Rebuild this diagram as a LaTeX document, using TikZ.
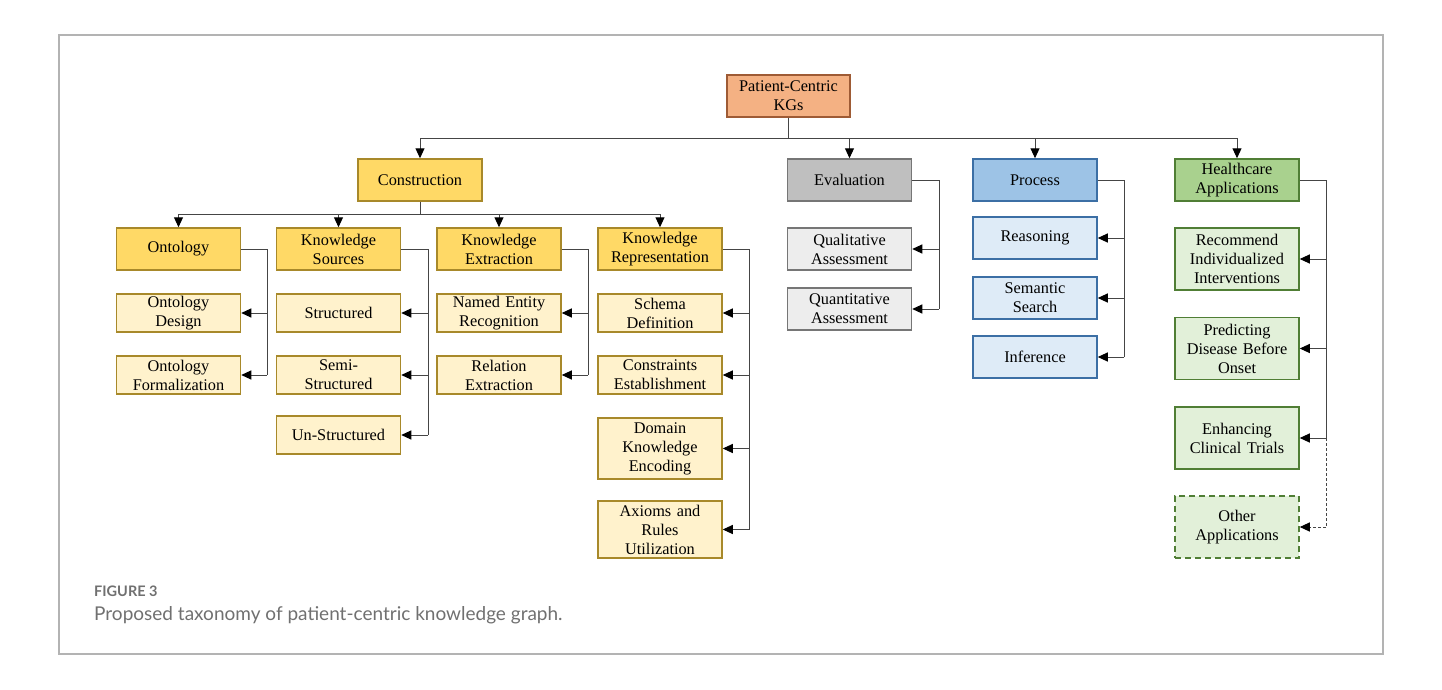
\documentclass[tikz,border=0pt]{standalone}
\usepackage{fontspec}
\setmainfont{Liberation Serif}
\newfontfamily\capfont{Lato}
\usepackage{xcolor}
\usepackage{tikz}
\usetikzlibrary{
  arrows.meta,
  positioning
}
\definecolor{KGorange}{HTML}{F4B183}
\definecolor{KGorangedk}{HTML}{9E5B35}
\definecolor{KGyellow}{HTML}{FFD966}
\definecolor{KGyellowlt}{HTML}{FFF2CC}
\definecolor{KGyellowdk}{HTML}{A8892A}
\definecolor{KGgray}{HTML}{BFBFBF}
\definecolor{KGgraylt}{HTML}{EDEDED}
\definecolor{KGgraydk}{HTML}{767676}
\definecolor{KGblue}{HTML}{9DC3E6}
\definecolor{KGbluelt}{HTML}{DEEBF7}
\definecolor{KGbluedk}{HTML}{3C6FA5}
\definecolor{KGgreen}{HTML}{A9D18E}
\definecolor{KGgreenlt}{HTML}{E2F0D9}
\definecolor{KGgreendk}{HTML}{507E35}
\definecolor{KGline}{HTML}{454545}
\definecolor{KGframe}{HTML}{B3B3B3}
\definecolor{KGcap}{HTML}{707070}

\begin{document}
\begin{tikzpicture}[
      x=1pt, y=-1pt,
      >={Triangle[length=10pt,width=9pt,color=black]},
      font=\fontsize{16.3}{19}\selectfont,
      kgbox/.style={
        rectangle, draw=#1dk, fill=#1,
        text width=118pt, align=center,
        minimum height=42pt, inner xsep=3pt, inner ysep=0pt,
        line width=1.5pt
      },
      kgsub/.style={
        rectangle, draw=#1dk, fill=#1lt,
        text width=118pt, align=center,
        minimum height=38pt, inner xsep=3pt, inner ysep=0pt,
        line width=1.5pt
      },
      kgconn/.style={draw=KGline, line width=1pt},
      kgarr/.style={kgconn, ->}
    ]
    \useasboundingbox (0,0) rectangle (1442,690);

    % Frame
    \draw[KGframe, line width=1.5pt] (59,35) rectangle (1383,654);

    % Root
    \node[kgbox=KGorange, text width=117pt] (root) at (788.5,96)
      {Patient-Centric\\KGs};

    % Level 1: four categories
    \node[kgbox=KGyellow] (con) at ( 420.0,180) {Construction};
    \node[kgbox=KGgray]   (eva) at ( 849.5,180) {Evaluation};
    \node[kgbox=KGblue]   (pro) at (1035.0,180) {Process};
    \node[kgbox=KGgreen]  (hca) at (1237.0,180) {Healthcare\\Applications};

    % Level 2: construction branches
    \node[kgbox=KGyellow] (ont) at (178.5,249) {Ontology};
    \node[kgbox=KGyellow] (ksr) at (338.5,249) {Knowledge\\Sources};
    \node[kgbox=KGyellow] (kex) at (499.0,249) {Knowledge\\Extraction};
    \node[kgbox=KGyellow] (krp) at (660.0,249) {Knowledge\\Representation};

    % Ontology items
    \node[kgsub=KGyellow] (ontdes) at (178.5,313) {Ontology\\Design};
    \node[kgsub=KGyellow] (ontfor) at (178.5,375) {Ontology\\Formalization};

    % Knowledge sources items
    \node[kgsub=KGyellow] (ksrstr) at (338.5,313) {Structured};
    \node[kgsub=KGyellow] (ksrsem) at (338.5,375) {Semi-\\Structured};
    \node[kgsub=KGyellow] (ksruns) at (338.5,435) {Un-Structured};

    % Knowledge extraction items
    \node[kgsub=KGyellow] (kexner) at (499.0,313) {Named Entity\\Recognition};
    \node[kgsub=KGyellow] (kexrel) at (499.0,375) {Relation\\Extraction};

    % Knowledge representation items
    \node[kgsub=KGyellow] (krpsch) at (660.0,313) {Schema\\Definition};
    \node[kgsub=KGyellow] (krpcst) at (660.0,375) {Constraints\\Establishment};
    \node[kgsub=KGyellow, minimum height=61pt] (krpdom) at (660.0,448.5)
      {Domain\\Knowledge\\Encoding};
    \node[kgsub=KGyellow, minimum height=57pt] (krpaxi) at (660.0,529.5)
      {Axioms and\\Rules\\Utilization};

    % Evaluation items
    \node[kgsub=KGgray, minimum height=42pt] (evaqal) at (849.5,249) {Qualitative\\Assessment};
    \node[kgsub=KGgray, minimum height=42pt] (evaqnt) at (849.5,309) {Quantitative\\Assessment};

    % Process items
    \node[kgsub=KGblue, minimum height=42pt] (prorea) at (1035.0,238) {Reasoning};
    \node[kgsub=KGblue, minimum height=42pt] (prosem) at (1035.0,298) {Semantic\\Search};
    \node[kgsub=KGblue, minimum height=42pt] (proinf) at (1035.0,357) {Inference};

    % Healthcare items
    \node[kgsub=KGgreen, minimum height=62pt] (hcarec) at (1237.0,259)
      {Recommend\\Individualized\\Interventions};
    \node[kgsub=KGgreen, minimum height=62pt] (hcapre) at (1237.0,348.5)
      {Predicting\\Disease Before\\Onset};
    \node[kgsub=KGgreen, minimum height=62pt] (hcaenh) at (1237.0,438)
      {Enhancing\\Clinical Trials};
    \node[kgsub=KGgreen, minimum height=62pt, dash pattern=on 6pt off 4pt] (hcaoth) at (1237.0,527)
      {Other\\Applications};

    % Bus coordinates
    \coordinate (topbus) at (788.5,138);
    \coordinate (conbus) at (420.0,214);
    \coordinate (ontbus) at (267,0);
    \coordinate (ksrbus) at (428,0);
    \coordinate (kexbus) at (588,0);
    \coordinate (krpbus) at (749,0);
    \coordinate (evabus) at (939,0);
    \coordinate (probus) at (1124,0);
    \coordinate (hcabus) at (1326,0);

    % Root to categories
    \draw[kgconn] (root.south) -- (topbus);
    \draw[kgconn] (con.north |- topbus) -- (hca.north |- topbus);
    \foreach \n in {con,eva,pro,hca}
      \draw[kgarr] (\n.north |- topbus) -- (\n.north);

    % Construction to branches
    \draw[kgconn] (con.south) -- (conbus);
    \draw[kgconn] (ont.north |- conbus) -- (krp.north |- conbus);
    \foreach \n in {ont,ksr,kex,krp}
      \draw[kgarr] (\n.north |- conbus) -- (\n.north);

    % Side buses to items
    \draw[kgconn] (ont.east) -| (ontbus |- ontfor.east);
    \foreach \n in {ontdes,ontfor}
      \draw[kgarr] (ontbus |- \n.east) -- (\n.east);

    \draw[kgconn] (ksr.east) -| (ksrbus |- ksruns.east);
    \foreach \n in {ksrstr,ksrsem,ksruns}
      \draw[kgarr] (ksrbus |- \n.east) -- (\n.east);

    \draw[kgconn] (kex.east) -| (kexbus |- kexrel.east);
    \foreach \n in {kexner,kexrel}
      \draw[kgarr] (kexbus |- \n.east) -- (\n.east);

    \draw[kgconn] (krp.east) -| (krpbus |- krpaxi.east);
    \foreach \n in {krpsch,krpcst,krpdom,krpaxi}
      \draw[kgarr] (krpbus |- \n.east) -- (\n.east);

    \draw[kgconn] (eva.east) -| (evabus |- evaqnt.east);
    \foreach \n in {evaqal,evaqnt}
      \draw[kgarr] (evabus |- \n.east) -- (\n.east);

    \draw[kgconn] (pro.east) -| (probus |- proinf.east);
    \foreach \n in {prorea,prosem,proinf}
      \draw[kgarr] (probus |- \n.east) -- (\n.east);

    \draw[kgconn] (hca.east) -| (hcabus |- hcaenh.east);
    \foreach \n in {hcarec,hcapre,hcaenh}
      \draw[kgarr] (hcabus |- \n.east) -- (\n.east);
    \draw[kgconn, densely dashed] (hcabus |- hcaenh.east) -- (hcabus |- hcaoth.east);
    \draw[kgarr, densely dashed] (hcabus |- hcaoth.east) -- (hcaoth.east);

    % Caption
    \node[anchor=base west, inner sep=0pt, text=KGcap,
      font=\capfont\bfseries\fontsize{14.5}{18}\selectfont] (figlbl) at (94,596) {FIGURE 3};
    \node[anchor=base west, inner sep=0pt, text=KGcap,
      font=\capfont\fontsize{19}{23}\selectfont] (figcap) at (94,620)
      {Proposed taxonomy of patient-centric knowledge graph.};
  \end{tikzpicture}
\end{document}
